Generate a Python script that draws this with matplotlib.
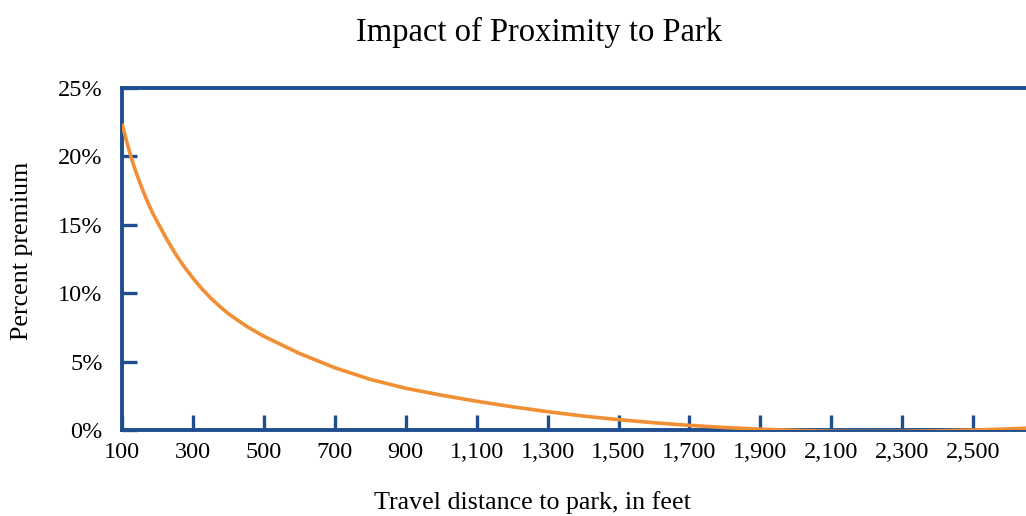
import numpy as np
import matplotlib
matplotlib.use('Agg')
import matplotlib.pyplot as plt
from matplotlib.ticker import FuncFormatter

plt.rcParams['font.family'] = ['Liberation Serif', 'DejaVu Serif']

# Curve (feet -> percent premium)
distance_ft = [100, 112, 125, 137, 150, 162, 175, 187, 200, 225, 250, 275, 300,
               325, 350, 375, 400, 450, 500, 600,
               700, 800, 900, 1000, 1100, 1200, 1300, 1400, 1500, 1600,
               1700, 1800, 1900, 2000, 2100, 2200, 2300, 2400, 2500, 2600, 2649]
premium_pct = [22.4, 21.2, 20.0, 19.03, 18.1, 17.3, 16.5, 15.82, 15.2, 14.0, 12.9, 11.95, 11.1,
               10.33, 9.65, 9.05, 8.5, 7.6, 6.85, 5.6,
               4.55, 3.7, 3.05, 2.55, 2.1, 1.7, 1.34, 1.02, 0.76, 0.53,
               0.34, 0.18, 0.06, -0.03, -0.09, -0.11, -0.1, -0.06, 0.0, 0.08, 0.13]

x_ticks = [100, 300, 500, 700, 900, 1100, 1300, 1500, 1700, 1900, 2100, 2300, 2500]
y_ticks = [0, 5, 10, 15, 20, 25]

blue = '#1f4e8f'
orange = '#f28e33'

fig = plt.figure(figsize=(10.26, 5.16), dpi=100)
ax = fig.add_axes([122 / 1026, 1 - 430 / 516, 1 - 122 / 1026, (430 - 88) / 516])

ax.plot(distance_ft, premium_pct, color=orange, linewidth=2.6, zorder=3,
        solid_capstyle='butt', solid_joinstyle='round')

ax.set_xlim(100, 2649)
ax.set_ylim(0, 25)
ax.set_xticks(x_ticks)
ax.set_yticks(y_ticks)
ax.xaxis.set_major_formatter(FuncFormatter(lambda v, p: f'{int(v):,}'))
ax.yaxis.set_major_formatter(FuncFormatter(lambda v, p: f'{int(v)}%'))

for side in ['top', 'left', 'bottom']:
    ax.spines[side].set_color(blue)
    ax.spines[side].set_linewidth(2.8)
ax.spines['right'].set_visible(False)

ax.tick_params(axis='both', direction='in', color=blue, width=2.4, length=10.5,
               labelsize=17.5, labelcolor='black')
ax.tick_params(axis='x', pad=9)
ax.tick_params(axis='y', pad=14)

fig.text(22 / 1026, 1 - 251 / 516, 'Percent premium', fontsize=18.7,
         rotation=90, ha='center', va='center')
fig.text(532 / 1026, 1 - 503 / 516, 'Travel distance to park, in feet',
         fontsize=18.7, ha='center', va='center')
fig.text(539 / 1026, 1 - 32 / 516, 'Impact of Proximity to Park',
         fontsize=23.5, ha='center', va='center')

fig.savefig('out.png', dpi=100)
